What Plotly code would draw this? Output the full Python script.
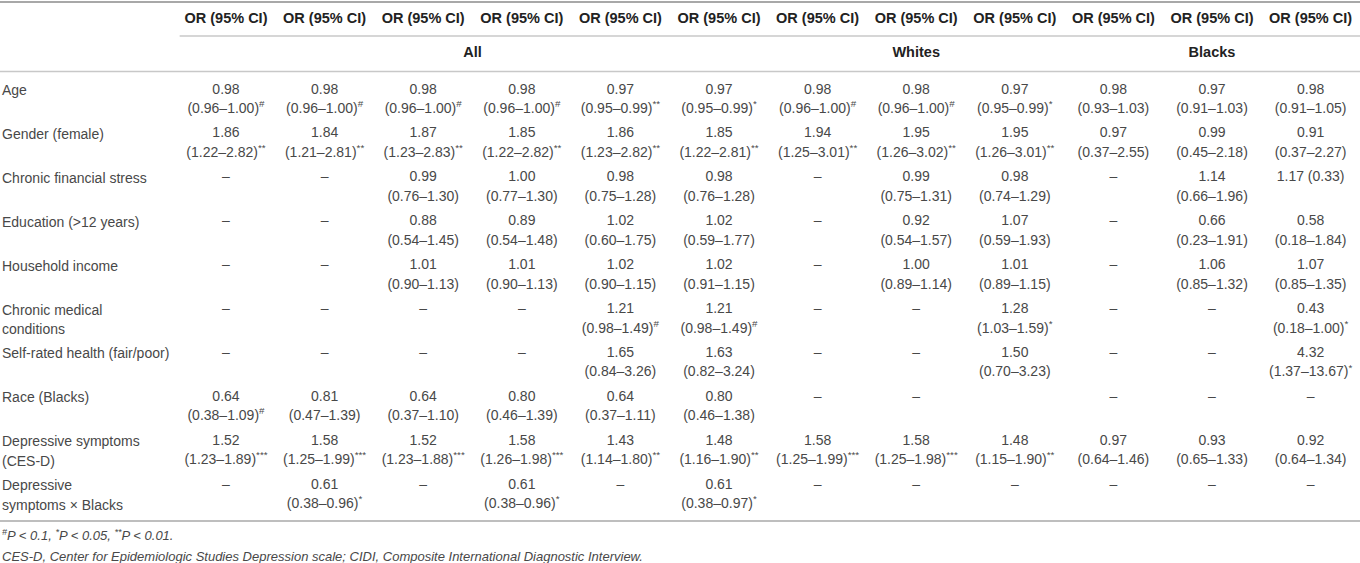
import plotly.graph_objects as go

# ---------------- data ----------------
COL_HEADERS = ["OR (95% CI)"] * 12
GROUPS = ["All", "Whites", "Blacks"]
GROUP_SPANS = [(1, 6), (7, 9), (10, 12)]

ROW_LABELS = [
    "Age",
    "Gender (female)",
    "Chronic financial stress",
    "Education (&gt;12 years)",
    "Household income",
    "Chronic medical|conditions",
    "Self-rated health (fair/poor)",
    "Race (Blacks)",
    "Depressive symptoms|(CES-D)",
    "Depressive|symptoms × Blacks",
]

D = "–"

AGE_OR = ["0.98", "0.98", "0.98", "0.98", "0.97", "0.97", "0.98", "0.98", "0.97", "0.98", "0.97", "0.98"]
AGE_CI = ["(0.96–1.00)", "(0.96–1.00)", "(0.96–1.00)", "(0.96–1.00)", "(0.95–0.99)", "(0.95–0.99)",
          "(0.96–1.00)", "(0.96–1.00)", "(0.95–0.99)", "(0.93–1.03)", "(0.91–1.03)", "(0.91–1.05)"]
AGE_SIG = ["#", "#", "#", "#", "**", "*", "#", "#", "*", "", "", ""]

GENDER_OR = ["1.86", "1.84", "1.87", "1.85", "1.86", "1.85", "1.94", "1.95", "1.95", "0.97", "0.99", "0.91"]
GENDER_CI = ["(1.22–2.82)", "(1.21–2.81)", "(1.23–2.83)", "(1.22–2.82)", "(1.23–2.82)", "(1.22–2.81)",
             "(1.25–3.01)", "(1.26–3.02)", "(1.26–3.01)", "(0.37–2.55)", "(0.45–2.18)", "(0.37–2.27)"]
GENDER_SIG = ["**", "**", "**", "**", "**", "**", "**", "**", "**", "", "", ""]

FIN_OR = [D, D, "0.99", "1.00", "0.98", "0.98", D, "0.99", "0.98", D, "1.14", "1.17 (0.33)"]
FIN_CI = ["", "", "(0.76–1.30)", "(0.77–1.30)", "(0.75–1.28)", "(0.76–1.28)", "", "(0.75–1.31)", "(0.74–1.29)",
          "", "(0.66–1.96)", ""]
FIN_SIG = [""] * 12

EDU_OR = [D, D, "0.88", "0.89", "1.02", "1.02", D, "0.92", "1.07", D, "0.66", "0.58"]
EDU_CI = ["", "", "(0.54–1.45)", "(0.54–1.48)", "(0.60–1.75)", "(0.59–1.77)", "", "(0.54–1.57)", "(0.59–1.93)",
          "", "(0.23–1.91)", "(0.18–1.84)"]
EDU_SIG = [""] * 12

INC_OR = [D, D, "1.01", "1.01", "1.02", "1.02", D, "1.00", "1.01", D, "1.06", "1.07"]
INC_CI = ["", "", "(0.90–1.13)", "(0.90–1.13)", "(0.90–1.15)", "(0.91–1.15)", "", "(0.89–1.14)", "(0.89–1.15)",
          "", "(0.85–1.32)", "(0.85–1.35)"]
INC_SIG = [""] * 12

MED_OR = [D, D, D, D, "1.21", "1.21", D, D, "1.28", D, D, "0.43"]
MED_CI = ["", "", "", "", "(0.98–1.49)", "(0.98–1.49)", "", "", "(1.03–1.59)", "", "", "(0.18–1.00)"]
MED_SIG = ["", "", "", "", "#", "#", "", "", "*", "", "", "*"]

SRH_OR = [D, D, D, D, "1.65", "1.63", D, D, "1.50", D, D, "4.32"]
SRH_CI = ["", "", "", "", "(0.84–3.26)", "(0.82–3.24)", "", "", "(0.70–3.23)", "", "", "(1.37–13.67)"]
SRH_SIG = ["", "", "", "", "", "", "", "", "", "", "", "*"]

RACE_OR = ["0.64", "0.81", "0.64", "0.80", "0.64", "0.80", D, D, "", D, D, D]
RACE_CI = ["(0.38–1.09)", "(0.47–1.39)", "(0.37–1.10)", "(0.46–1.39)", "(0.37–1.11)", "(0.46–1.38)",
           "", "", "", "", "", ""]
RACE_SIG = ["#", "", "", "", "", "", "", "", "", "", "", ""]

DEP_OR = ["1.52", "1.58", "1.52", "1.58", "1.43", "1.48", "1.58", "1.58", "1.48", "0.97", "0.93", "0.92"]
DEP_CI = ["(1.23–1.89)", "(1.25–1.99)", "(1.23–1.88)", "(1.26–1.98)", "(1.14–1.80)", "(1.16–1.90)",
          "(1.25–1.99)", "(1.25–1.98)", "(1.15–1.90)", "(0.64–1.46)", "(0.65–1.33)", "(0.64–1.34)"]
DEP_SIG = ["***", "***", "***", "***", "**", "**", "***", "***", "**", "", "", ""]

DEPB_OR = [D, "0.61", D, "0.61", D, "0.61", D, D, D, D, D, D]
DEPB_CI = ["", "(0.38–0.96)", "", "(0.38–0.96)", "", "(0.38–0.97)", "", "", "", "", "", ""]
DEPB_SIG = ["", "*", "", "*", "", "*", "", "", "", "", "", ""]

FOOTNOTES = [
    "<sup>#</sup>P &lt; 0.1, <sup>*</sup>P &lt; 0.05, <sup>**</sup>P &lt; 0.01.",
    "CES-D, Center for Epidemiologic Studies Depression scale; CIDI, Composite International Diagnostic Interview.",
]

ROWS_OR = [AGE_OR, GENDER_OR, FIN_OR, EDU_OR, INC_OR, MED_OR, SRH_OR, RACE_OR, DEP_OR, DEPB_OR]
ROWS_CI = [AGE_CI, GENDER_CI, FIN_CI, EDU_CI, INC_CI, MED_CI, SRH_CI, RACE_CI, DEP_CI, DEPB_CI]
ROWS_SIG = [AGE_SIG, GENDER_SIG, FIN_SIG, EDU_SIG, INC_SIG, MED_SIG, SRH_SIG, RACE_SIG, DEP_SIG, DEPB_SIG]

# ---------------- style / layout ----------------
FONT = "Arial, Liberation Sans, sans-serif"
TXT = "#484848"
HDR = "#222222"
LINE_SOFT = "#c8c8c8"
LINE_TOP = "#a8a8a8"
LINE2 = 0.444          # offset (in row units) of the second text line
Y_HEADER = -1.617
Y_GROUP = -0.843

fig = go.Figure()

or_x, or_y, or_t = [], [], []
ci_x, ci_y, ci_t = [], [], []
for r, (ors, cis, sigs) in enumerate(zip(ROWS_OR, ROWS_CI, ROWS_SIG)):
    for c in range(12):
        if ors[c]:
            or_x.append(c + 1); or_y.append(r); or_t.append(ors[c])
        if cis[c]:
            t = cis[c] + (f"<sup>{sigs[c]}</sup>" if sigs[c] else "")
            ci_x.append(c + 1); ci_y.append(r + LINE2); ci_t.append(t)

fig.add_trace(go.Scatter(x=or_x, y=or_y, text=or_t, mode="text", textposition="middle center",
                         textfont=dict(family=FONT, size=14, color=TXT), hoverinfo="skip", showlegend=False))
fig.add_trace(go.Scatter(x=ci_x, y=ci_y, text=ci_t, mode="text", textposition="middle center",
                         textfont=dict(family=FONT, size=14, color=TXT), hoverinfo="skip", showlegend=False))

# column headers
fig.add_trace(go.Scatter(x=list(range(1, 13)), y=[Y_HEADER] * 12, text=[f"<b>{h}</b>" for h in COL_HEADERS],
                         mode="text", textposition="middle center",
                         textfont=dict(family=FONT, size=14.5, color=HDR), hoverinfo="skip", showlegend=False))
# group headers
fig.add_trace(go.Scatter(x=[(a + b) / 2 for a, b in GROUP_SPANS], y=[Y_GROUP] * 3,
                         text=[f"<b>{g}</b>" for g in GROUPS], mode="text", textposition="middle center",
                         textfont=dict(family=FONT, size=14.5, color=HDR), hoverinfo="skip", showlegend=False))

annotations = []
for r, lab in enumerate(ROW_LABELS):
    for k, part in enumerate(lab.split("|")):
        annotations.append(dict(x=-1.292, y=r + k * LINE2, xref="x", yref="y", text=part, showarrow=False,
                                xanchor="left", yanchor="middle",
                                font=dict(family=FONT, size=14, color=TXT)))
for k, note in enumerate(FOOTNOTES):
    annotations.append(dict(x=-1.292, y=10.137 + k * 0.478, xref="x", yref="y", text=f"<i>{note}</i>",
                            showarrow=False, xanchor="left", yanchor="middle",
                            font=dict(family=FONT, size=13, color=TXT)))

shapes = [
    dict(type="line", xref="paper", yref="y", x0=0, x1=1, y0=-2.005, y1=-2.005,
         line=dict(color=LINE_TOP, width=2)),
    dict(type="line", xref="x", yref="y", x0=0.53, x1=12.501, y0=-1.230, y1=-1.230,
         line=dict(color=LINE_SOFT, width=1.5)),
    dict(type="line", xref="paper", yref="y", x0=0, x1=1, y0=-0.421, y1=-0.421,
         line=dict(color=LINE_SOFT, width=1.5)),
    dict(type="line", xref="paper", yref="y", x0=0, x1=1, y0=9.818, y1=9.818,
         line=dict(color=LINE_TOP, width=1.5)),
]

fig.update_layout(
    width=1360, height=563,
    margin=dict(l=0, r=0, t=0, b=0),
    paper_bgcolor="white", plot_bgcolor="white",
    xaxis=dict(range=[-1.292, 12.501], visible=False, fixedrange=True),
    yaxis=dict(range=[10.774, -2.050], visible=False, fixedrange=True),
    annotations=annotations, shapes=shapes,
    showlegend=False,
)

fig.write_html(
    "out.html",
    config={"displayModeBar": False},
    post_script="document.body.style.margin='0';document.body.style.overflow='hidden';",
)
